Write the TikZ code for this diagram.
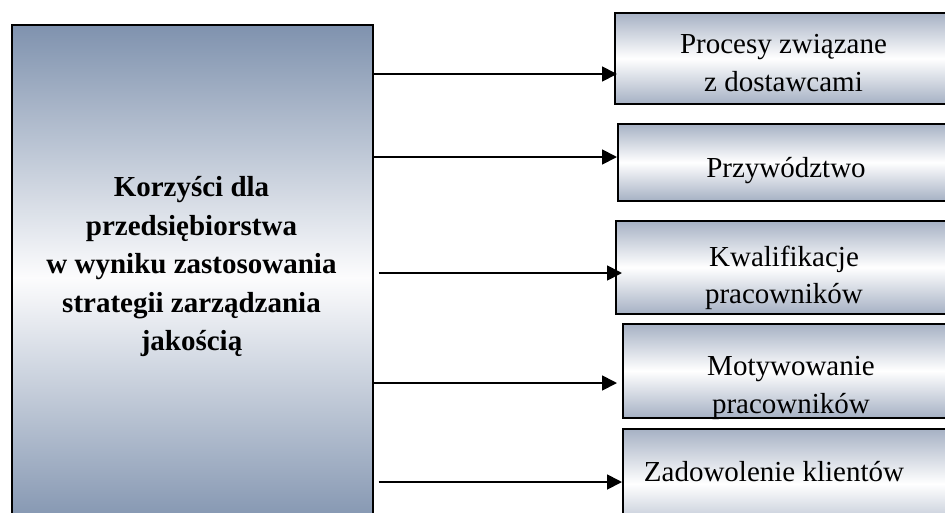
\documentclass[tikz,border=0pt]{standalone}
\usepackage{fontspec}
\setmainfont{Liberation Serif}
\usetikzlibrary{arrows.meta,calc}

\definecolor{slate}{RGB}{127,146,174}
\definecolor{steel}{RGB}{166,177,196}
\definecolor{paper}{RGB}{252,252,253}

\tikzset{
  lbox/.style={draw=black, line width=1.6pt, inner sep=0pt, anchor=north west,
    top color=slate, bottom color=slate, middle color=paper},
  rbox/.style={draw=black, line width=1.6pt, inner sep=0pt, anchor=north west,
    top color=steel, bottom color=steel, middle color=white},
  maintxt/.style={align=center, inner sep=0pt,
    font=\bfseries\fontsize{29pt}{38.5pt}\selectfont},
  itemtxt/.style={align=center, inner sep=0pt,
    font=\fontsize{29pt}{37.5pt}\selectfont},
  arr/.style={line width=1.8pt, -{Triangle[length=15pt,width=15pt]}}
}

\begin{document}
\begin{tikzpicture}[x=1pt, y=-1pt]
  \useasboundingbox (0,0) rectangle (945,512);
  \clip (0,0) rectangle (945,512);

  % main box on the left
  \node[lbox, minimum width=361pt, minimum height=506pt] (left) at (11,24) {};
  \node[maintxt] (lefttxt) at (191.5,267)
    {Korzyści dla\\przedsiębiorstwa\\w wyniku zastosowania\\strategii zarządzania\\jakością};

  % boxes on the right
  \node[rbox, minimum width=340pt, minimum height=91pt] (p1) at (614,12) {};
  \node[rbox, minimum width=340pt, minimum height=77pt] (p2) at (617,123) {};
  \node[rbox, minimum width=340pt, minimum height=93pt] (p3) at (615,220) {};
  \node[rbox, minimum width=340pt, minimum height=94pt] (p4) at (622,323) {};
  \node[rbox, minimum width=340pt, minimum height=110pt] (p5) at (622,428) {};

  \node[itemtxt] (t1) at (783.5,63) {Procesy związane\\z dostawcami};
  \node[itemtxt] (t2) at (786,171) {Przywództwo};
  \node[itemtxt] (t3) at (784,278) {Kwalifikacje\\pracowników};
  \node[itemtxt] (t4) at (791,388) {Motywowanie\\pracowników};
  \node[itemtxt] (t5) at (774,472) {Zadowolenie klientów};

  % connectors
  \draw[arr] (left.east |- 0,74) -- ($(p1.west |- 0,74)+(3,0)$);
  \draw[arr] (left.east |- 0,157) -- (p2.west |- 0,157);
  \draw[arr] ($(left.east |- 0,273)+(5,0)$) -- ($(p3.west |- 0,273)+(7,0)$);
  \draw[arr] (left.east |- 0,383) -- ($(p4.west |- 0,383)+(-5,0)$);
  \draw[arr] ($(left.east |- 0,482)+(5,0)$) -- (p5.west |- 0,482);
\end{tikzpicture}
\end{document}
